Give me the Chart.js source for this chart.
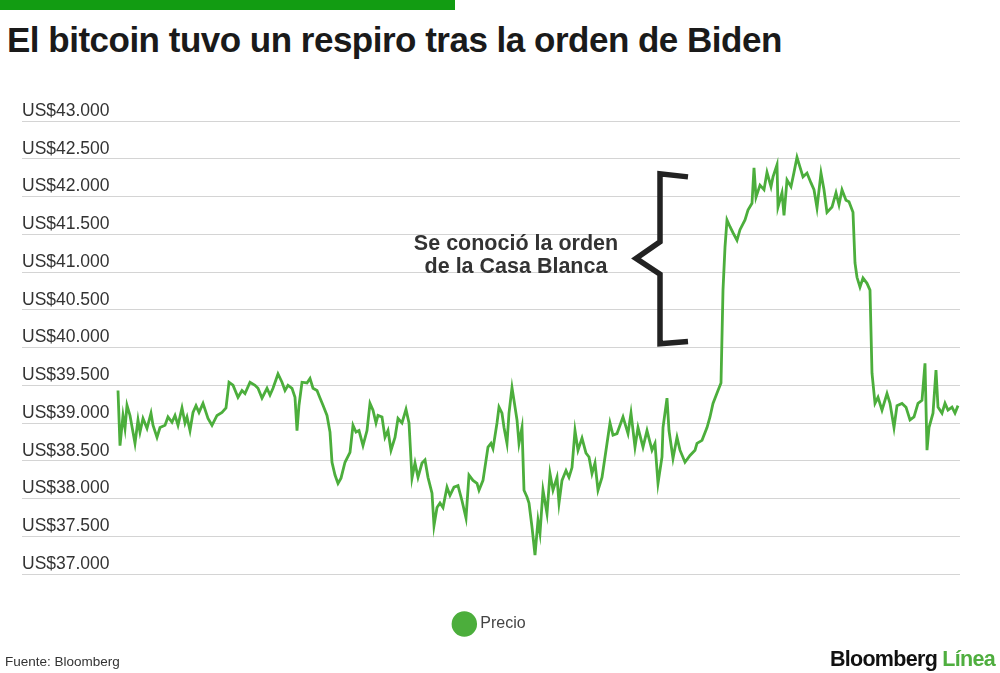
<!DOCTYPE html>
<html>
<head>
<meta charset="utf-8">
<script src="https://cdn.jsdelivr.net/npm/chart.js@4.4.1/dist/chart.umd.min.js"></script>
<style>
  html, body { margin: 0; padding: 0; background: #fff; }
  body { width: 1000px; height: 673px; position: relative; overflow: hidden; font-family: "Liberation Sans", Arial, sans-serif; }
  #barra { position: absolute; left: 0; top: 0; width: 455px; height: 10px; background: #129c12; }
  #titulo { position: absolute; left: 7px; top: 20px; margin: 0; font-size: 35px; font-weight: bold; color: #1a1a1a; letter-spacing: -0.5px; white-space: nowrap; }
  #lienzo { position: absolute; left: 0; top: 0; width: 1000px; height: 673px; }
  #fuente { position: absolute; left: 5px; top: 654px; font-size: 13.5px; color: #333; }
  #marca { position: absolute; right: 5px; top: 647px; font-size: 21.5px; font-weight: bold; letter-spacing: -0.7px; color: #111; }
  #marca span { color: #4fae3f; }
</style>
</head>
<body>
<div id="barra"></div>
<h1 id="titulo">El bitcoin tuvo un respiro tras la orden de Biden</h1>
<canvas id="lienzo" width="1000" height="673"></canvas>
<div id="fuente">Fuente: Bloomberg</div>
<div id="marca">Bloomberg <span>Línea</span></div>
<script>
// minutos desde el inicio de la serie
const tiempo = [
    0, 6, 15, 21, 27, 36, 51, 60, 66, 75,
    87, 99, 105, 117, 126, 141, 150, 162, 171, 180,
    192, 201, 207, 216, 225, 234, 243, 255, 270, 282,
    297, 312, 324, 333, 345, 360, 372, 381, 396, 411,
    420, 432, 447, 456, 465, 480, 492, 501, 510, 522,
    531, 537, 543, 552, 567, 576, 585, 597, 606, 615,
    627, 636, 642, 651, 660, 669, 681, 696, 705, 714,
    723, 735, 747, 756, 765, 774, 780, 792, 801, 810,
    819, 831, 840, 852, 864, 873, 882, 891, 900, 912,
    921, 930, 942, 948, 957, 966, 975, 987, 996, 1008,
    1020, 1032, 1044, 1053, 1065, 1077, 1083, 1095, 1110, 1119,
    1125, 1137, 1143, 1152, 1158, 1167, 1173, 1182, 1188, 1197,
    1203, 1212, 1218, 1227, 1233, 1242, 1251, 1260, 1266, 1275,
    1287, 1296, 1305, 1317, 1323, 1332, 1344, 1353, 1362, 1371,
    1380, 1392, 1404, 1413, 1422, 1431, 1440, 1452, 1464, 1476,
    1485, 1497, 1515, 1530, 1539, 1551, 1560, 1575, 1587, 1602,
    1611, 1620, 1632, 1635, 1647, 1653, 1665, 1677, 1686, 1701,
    1716, 1731, 1737, 1752, 1767, 1776, 1785, 1800, 1809, 1815,
    1821, 1827, 1836, 1845, 1857, 1866, 1881, 1890, 1902, 1908,
    1914, 1926, 1938, 1947, 1959, 1965, 1977, 1980, 1992, 1998,
    2007, 2019, 2028, 2037, 2046, 2055, 2067, 2079, 2088, 2097,
    2109, 2118, 2127, 2142, 2154, 2163, 2172, 2184, 2193, 2205,
    2211, 2217, 2226, 2235, 2247, 2256, 2262, 2271, 2280, 2292,
    2307, 2316, 2328, 2337, 2352, 2364, 2376, 2388, 2400, 2412,
    2421, 2427, 2433, 2445, 2454, 2460, 2472, 2481, 2490, 2502,
    2511, 2520
];

// precio del bitcoin en US$
const precio = [
    39430, 38700, 39100, 38930, 39235, 39100, 38730, 39040, 38880, 39060,
    38930, 39130, 38970, 38810, 38940, 38970, 39080, 39010, 39100, 38970,
    39200, 39000, 39080, 38900, 39140, 39230, 39140, 39260, 39060, 38970,
    39100, 39140, 39200, 39540, 39500, 39340, 39430, 39390, 39540, 39500,
    39460, 39330, 39460, 39370, 39460, 39650, 39540, 39430, 39500, 39460,
    39340, 38900, 39235, 39540, 39530, 39590, 39460, 39430, 39330, 39235,
    39100, 38880, 38480, 38310, 38200, 38270, 38480, 38610, 38970, 38880,
    38900, 38700, 38900, 39260, 39170, 39000, 39100, 39080, 38810, 38900,
    38640, 38810, 39060, 39000, 39180, 39000, 38270, 38470, 38280, 38470,
    38510, 38280, 38070, 37640, 37880, 37940, 37880, 38150, 38040, 38150,
    38170, 37970, 37740, 38310, 38240, 38200, 38110, 38240, 38680, 38730,
    38660, 39000, 39210, 39130, 38940, 38730, 39130, 39470, 39300, 39040,
    38730, 38940, 38110, 38020, 37940, 37620, 37250, 37710, 37540, 38110,
    37800, 38330, 38110, 38280, 37940, 38240, 38370, 38280, 38410, 38900,
    38640, 38800, 38600, 38550, 38330, 38470, 38110, 38280, 38640, 39000,
    38840, 38860, 39080, 38860, 39130, 38680, 38940, 38680, 38900, 38640,
    38730, 38200, 38550, 38940, 39330, 38900, 38530, 38810, 38640, 38480,
    38570, 38640, 38730, 38770, 38940, 39080, 39260, 39430, 39530, 40760,
    41330, 41690, 41600, 41520, 41420, 41560, 41690, 41820, 41910, 42380,
    41990, 42150, 42090, 42320, 42130, 42260, 42420, 41860, 42050, 41750,
    42220, 42130, 42320, 42520, 42390, 42260, 42310, 42180, 42090, 41850,
    42310, 42090, 41790, 41860, 42050, 41890, 42090, 41950, 41930, 41790,
    41120, 40930, 40800, 40920, 40850, 40760, 39660, 39260, 39340, 39170,
    39390, 39260, 38940, 39230, 39260, 39210, 39040, 39080, 39260, 39300,
    39790, 38640, 38940, 39130, 39700, 39210, 39130, 39260, 39170, 39210,
    39130, 39230
];

const ticksY = [37000, 37500, 38000, 38500, 39000, 39500, 40000, 40500, 41000, 41500, 42000, 42500, 43000];
const etiquetasY = ["US$37.000", "US$37.500", "US$38.000", "US$38.500", "US$39.000", "US$39.500", "US$40.000",
    "US$40.500", "US$41.000", "US$41.500", "US$42.000", "US$42.500", "US$43.000"];

const nota = ["Se conoció la orden", "de la Casa Blanca"];

const VERDE = "#4cae3c";

// llave con el texto de la orden de la Casa Blanca
const llavePlugin = {
    id: "llave",
    afterDatasetsDraw(chart) {
        const xs = chart.scales.x, ys = chart.scales.y;
        const ctx = chart.ctx;
        const xv = xs.getPixelForValue(1626);
        const xp = xs.getPixelForValue(1554);
        const xe = xs.getPixelForValue(1710);
        ctx.save();
        ctx.strokeStyle = "#222";
        ctx.lineWidth = 5.5;
        ctx.lineJoin = "miter";
        ctx.beginPath();
        ctx.moveTo(xe, ys.getPixelForValue(42260));
        ctx.lineTo(xv, ys.getPixelForValue(42300));
        ctx.lineTo(xv, ys.getPixelForValue(41400));
        ctx.lineTo(xp, ys.getPixelForValue(41180));
        ctx.lineTo(xv, ys.getPixelForValue(40970));
        ctx.lineTo(xv, ys.getPixelForValue(40050));
        ctx.lineTo(xe, ys.getPixelForValue(40080));
        ctx.stroke();

        ctx.fillStyle = "#333";
        ctx.font = "bold 21.5px 'Liberation Sans', Arial, sans-serif";
        ctx.textAlign = "center";
        ctx.textBaseline = "alphabetic";
        const xt = xs.getPixelForValue(1194);
        ctx.fillText(nota[0], xt, ys.getPixelForValue(41290));
        ctx.fillText(nota[1], xt, ys.getPixelForValue(40985));
        ctx.restore();
    }
};

document.addEventListener("DOMContentLoaded", () => {
    const ctx = document.getElementById("lienzo").getContext("2d");
    new Chart(ctx, {
        type: "line",
        data: {
            datasets: [
                {
                    label: "Precio",
                    data: tiempo.map((t, i) => ({ x: t, y: precio[i] })),
                    borderColor: VERDE,
                    backgroundColor: VERDE,
                    borderWidth: 2.8,
                    pointRadius: 0,
                    tension: 0,
                    fill: false,
                },
            ],
        },
        options: {
            responsive: false,
            animation: false,
            layout: { padding: { left: 22, right: 40, top: 121, bottom: 31 } },
            plugins: {
                tooltip: { enabled: false },
                legend: {
                    position: "bottom",
                    labels: {
                        usePointStyle: true,
                        boxWidth: 16,
                        boxHeight: 16,
                        padding: 42,
                        color: "#444",
                        font: { family: "'Liberation Sans', Arial, sans-serif", size: 16 },
                    },
                },
            },
            scales: {
                x: { type: "linear", min: -288, max: 2526, display: false },
                y: {
                    min: 37000,
                    max: 43000,
                    afterBuildTicks: (axis) => {
                        axis.ticks = ticksY.map((v) => ({ value: v }));
                    },
                    border: { display: false },
                    grid: { color: "#d4d4d4", lineWidth: 1, drawTicks: false },
                    ticks: {
                        mirror: true,
                        padding: 0,
                        labelOffset: -10,
                        color: "#333",
                        font: { family: "'Liberation Sans', Arial, sans-serif", size: 17.5 },
                        callback: (v) => etiquetasY[ticksY.indexOf(v)],
                    },
                },
            },
        },
        plugins: [llavePlugin],
    });
});
</script>
</body>
</html>
